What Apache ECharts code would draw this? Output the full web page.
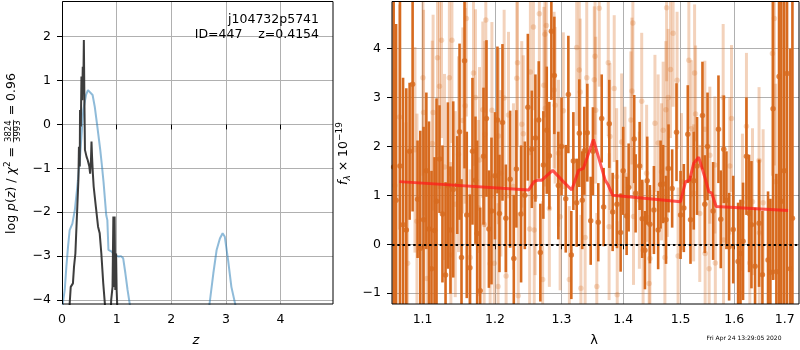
<!DOCTYPE html>
<html><head><meta charset="utf-8">
<script src="https://cdn.jsdelivr.net/npm/echarts@6/dist/echarts.min.js"></script>
<style>html,body{margin:0;padding:0;background:#fff}#c{width:800px;height:350px}</style>
</head><body><div id="c"></div>
<script>
// ---------- Left panel: log p(z) ----------
const blueZ = [0.0,0.019,0.05,0.08,0.11,0.14,0.19,0.235,0.28,0.33,0.36,0.39,0.44,0.475,0.51,0.56,0.60,0.64,0.70,0.73,0.76,0.81,0.83,0.85,0.91,0.975,1.04,1.08,1.12,1.16,1.20,1.24,1.31,2.0,2.6,2.70,2.77,2.83,2.89,2.94,2.98,3.04,3.10,3.17,3.30,4.0,4.96];
const blueLogP = [-4.5,-4.04,-3.77,-3.24,-2.79,-2.41,-2.26,-1.95,-1.42,-0.74,-0.20,0.33,0.67,0.78,0.78,0.67,0.40,0.02,-0.58,-0.93,-1.31,-2.07,-2.18,-2.86,-2.90,-2.98,-3.01,-3.00,-3.05,-3.39,-3.77,-4.09,-5.0,-7.0,-5.0,-4.09,-3.39,-2.86,-2.60,-2.48,-2.56,-3.09,-3.70,-4.09,-5.0,-8.0,-9.0];
const blackZ = [0.13,0.14,0.16,0.18,0.20,0.22,0.245,0.26,0.28,0.30,0.31,0.325,0.33,0.345,0.356,0.37,0.38,0.39,0.40,0.41,0.42,0.45,0.47,0.50,0.515,0.53,0.54,0.55,0.565,0.58,0.62,0.66,0.69,0.72,0.755,0.785,0.80,0.88,0.90,0.925,0.94,0.945,0.95,0.963,0.975,0.99,1.0,1.01,1.03];
const blackLogP = [-4.8,-4.09,-3.7,-3.66,-3.62,-3.24,-2.94,-2.48,-1.88,-1.27,-0.51,-0.96,0.33,-0.05,1.09,0.55,1.31,0.86,1.92,0.55,-0.58,-0.74,-0.81,-0.96,-1.12,-0.81,-0.39,-0.74,-1.12,-1.42,-1.88,-2.33,-2.48,-2.94,-3.62,-4.09,-4.8,-4.8,-4.0,-3.7,-2.1,-3.09,-3.7,-2.1,-3.77,-2.94,-3.77,-4.09,-4.8];
const leftXTicks = [0,1,2,3,4];
const leftYTicks = [-4,-3,-2,-1,0,1,2];

// ---------- Right panel: spectrum ----------
const darkWave = [
1.0624,1.0655,1.0705,1.0745,1.0787,1.0830,1.0869,1.0934,1.0970,1.1013,
1.1050,1.1085,1.1119,1.1159,1.1186,1.1226,1.1266,1.1308,1.1340,1.1375,
1.1413,1.1468,1.1500,1.1527,1.1569,1.1600,1.1644,1.1680,1.1722,1.1746,
1.1789,1.1836,1.1878,1.1913,1.1950,1.2000,1.2036,1.2065,1.2109,1.2158,
1.2221,1.2275,1.2313,1.2383,1.2439,1.2484,1.2544,1.2598,1.2649,1.2673,
1.2719,1.2771,1.2811,1.2842,1.2888,1.2950,1.3000,1.3066,1.3107,1.3154,
1.3186,1.3239,1.3281,1.3328,1.3361,1.3409,1.3464,1.3500,1.3587,1.3643,
1.3675,1.3768,1.3824,1.3896,1.3957,1.4000,1.4058,1.4092,1.4187,1.4211,
1.4280,1.4324,1.4371,1.4410,1.4457,1.4527,1.4601,1.4644,1.4689,1.4740,
1.4784,1.4849,1.4927,1.5000,1.5059,1.5131,1.5180,1.5240,1.5300,1.5400,
1.5444,1.5494,1.5598,1.5699,1.5743,1.5800,1.5850,1.5901,1.5980,1.6074,
1.6120,1.6170,1.6236,1.6288,1.6334,1.6405,1.6484,1.6551,1.6663,1.6710,
1.6764,1.6831,1.6885,1.6932,1.6990,1.7048,1.7116,1.7159];
const darkFlux = [
1.58,0.90,1.60,0.40,0.29,1.90,3.27,0.92,-0.08,0.50,
1.50,0.31,-0.50,0.28,0.88,1.74,0.62,-0.63,1.20,0.29,
1.12,1.21,2.30,-0.27,3.75,0.60,-0.48,1.90,1.31,0.22,
-0.95,1.80,2.57,0.31,0.68,1.40,2.54,0.63,2.49,0.53,
1.33,-0.29,1.54,0.62,1.00,2.80,1.94,2.17,2.54,-0.17,
1.62,2.33,1.81,4.35,3.45,1.20,2.00,0.93,3.06,-0.22,
1.70,0.85,2.27,0.90,1.91,2.28,0.48,1.90,0.45,2.57,
0.76,2.46,0.66,0.82,0.24,1.50,0.58,1.16,2.15,1.04,
1.60,0.52,-0.12,1.30,0.41,0.70,0.29,1.22,1.23,0.50,
1.55,1.14,2.29,0.60,0.74,2.25,0.50,1.30,1.60,2.63,
0.82,2.00,0.68,2.35,0.51,1.94,0.90,-0.05,0.30,-0.35,
-0.19,0.06,1.80,0.63,0.40,-0.45,0.43,-0.62,-0.32,-0.57,
2.77,-0.56,3.43,0.88,1.50,3.49,-0.50,0.53];
const darkErr = [
3.8,3.6,3.4,3.0,2.9,1.4,2.6,1.2,2.4,1.9,
1.6,2.2,2.0,1.5,2.1,1.1,1.4,1.9,1.7,1.3,
1.8,1.0,1.8,1.6,2.2,1.7,1.5,1.5,1.3,1.9,
1.7,1.4,1.6,1.2,1.5,1.3,1.5,1.2,1.6,1.1,
1.4,1.3,1.2,1.4,1.1,1.5,1.2,1.3,1.2,1.0,
1.1,1.3,1.1,1.4,1.2,1.1,1.0,1.1,1.2,0.9,
1.0,0.9,1.1,1.0,0.9,1.0,0.9,0.9,0.8,0.9,
0.8,0.9,0.8,0.9,0.8,0.9,0.8,0.9,0.9,0.8,
0.9,0.8,0.8,0.9,0.8,0.9,0.8,0.9,0.8,0.9,
0.9,0.8,1.0,0.9,0.9,1.0,0.9,1.0,1.0,1.1,
1.0,1.1,1.0,1.1,1.0,1.1,1.0,1.1,1.1,1.2,
1.1,1.2,1.2,1.2,1.3,1.2,1.3,1.3,1.4,1.5,
3.5,2.0,5.0,4.5,5.0,5.5,4.5,5.0];

const lightWave = [
1.0640,1.0700,1.0783,1.0804,1.0900,1.0926,1.1005,1.1013,1.1058,1.1129,
1.1140,1.1199,1.1226,1.1253,1.1294,1.1360,1.1380,1.1395,1.1441,1.1486,
1.1546,1.1578,1.1595,1.1648,1.1694,1.1722,1.1765,1.1779,1.1826,1.1845,
1.1855,1.1869,1.1931,1.1956,1.1990,1.2045,1.2050,1.2085,1.2133,1.2162,
1.2197,1.2270,1.2319,1.2330,1.2341,1.2393,1.2416,1.2511,1.2522,1.2568,
1.2580,1.2594,1.2658,1.2708,1.2727,1.2742,1.2750,1.2765,1.2811,1.2884,
1.2900,1.2952,1.2978,1.3028,1.3123,1.3239,1.3281,1.3295,1.3306,1.3374,
1.3400,1.3522,1.3534,1.3545,1.3563,1.3603,1.3751,1.3765,1.3779,1.3850,
1.3890,1.3900,1.3974,1.4030,1.4130,1.4148,1.4164,1.4175,1.4275,1.4315,
1.4339,1.4400,1.4444,1.4457,1.4545,1.4601,1.4661,1.4689,1.4720,1.4737,
1.4750,1.4765,1.4778,1.4820,1.4866,1.4937,1.4955,1.5017,1.5150,1.5194,
1.5237,1.5255,1.5273,1.5350,1.5444,1.5450,1.5524,1.5537,1.5631,1.5640,
1.5788,1.5795,1.5914,1.5947,1.6107,1.6158,1.6236,1.6302,1.6355,1.6484,
1.6490,1.6565,1.6752,1.6791,1.6817];
const lightFlux = [
1.20,2.60,0.29,-0.39,1.93,0.47,3.40,2.69,-0.70,2.06,
2.69,3.81,3.23,4.17,1.58,3.40,-0.22,4.17,0.82,1.84,
2.53,2.83,4.61,-0.27,3.50,3.00,0.74,1.72,2.75,0.41,
2.25,4.58,-0.40,2.74,-0.39,-0.86,2.21,1.45,2.99,-0.65,
2.64,1.18,3.39,3.71,-1.05,2.45,2.26,0.31,3.52,4.44,
0.29,0.97,4.71,-0.72,3.25,4.29,2.78,4.47,0.73,3.15,
2.84,1.86,0.56,2.73,-0.72,4.02,3.56,3.11,-0.90,0.14,
3.40,3.36,3.84,2.74,-0.86,4.82,3.71,0.36,2.20,3.18,
1.38,-1.03,2.09,1.41,2.54,3.13,4.52,0.57,0.90,2.92,
-0.12,1.45,-0.80,-0.29,2.47,2.07,1.48,2.33,-0.27,2.75,
4.83,1.55,3.00,3.57,4.31,3.35,-0.24,1.28,3.76,2.36,
1.05,3.50,2.66,0.63,2.35,-0.19,-0.50,1.82,1.62,-0.38,
3.00,0.09,1.60,2.57,-0.99,0.86,2.41,-0.38,0.87,1.71,
0.23,0.85,3.90,4.61,1.28];
const lightErr = [
2.4,2.3,2.2,2.3,2.1,2.2,2.0,2.1,2.0,2.1,
2.0,2.0,2.1,2.0,1.9,2.0,1.9,2.1,1.9,2.0,
1.9,2.0,2.0,1.8,1.9,1.8,1.8,1.9,1.8,1.8,
1.9,1.9,1.8,1.8,1.8,1.7,1.8,1.7,1.8,1.7,
1.7,1.7,1.8,1.7,1.7,1.7,1.6,1.6,1.7,1.7,
1.6,1.6,1.7,1.6,1.6,1.7,1.6,1.6,1.6,1.6,
1.6,1.5,1.5,1.6,1.5,1.6,1.6,1.5,1.5,1.5,
1.6,1.5,1.6,1.5,1.5,1.6,1.5,1.5,1.5,1.5,
1.4,1.5,1.4,1.4,1.4,1.5,1.5,1.4,1.4,1.4,
1.4,1.4,1.4,1.4,1.4,1.4,1.4,1.4,1.4,1.4,
1.5,1.4,1.4,1.4,1.5,1.4,1.4,1.4,1.4,1.4,
1.4,1.4,1.4,1.4,1.4,1.4,1.4,1.4,1.4,1.4,
1.5,1.4,1.4,1.5,1.5,1.4,1.5,1.5,1.5,1.5,
1.5,1.5,2.5,3.0,2.0];

const modelWave = [1.0697,1.2497,1.2578,1.2639,1.2696,1.2862,1.3028,1.3160,1.3270,1.3345,1.3508,1.3605,1.3700,1.3751,1.3824,1.4999,1.5090,1.5163,1.5237,1.5330,1.5444,1.5520,1.5570,1.5655,1.7070];
const modelFlux = [1.28,1.11,1.28,1.31,1.31,1.51,1.28,1.11,1.51,1.55,2.14,1.72,1.31,1.21,1.00,0.87,1.28,1.31,1.65,1.78,1.37,1.07,1.05,0.77,0.69];
const rightXTicks = [1.1,1.2,1.3,1.4,1.5,1.6,1.7];
const rightYTicks = [-1,0,1,2,3,4];

// ---------- drawing ----------
const FONT = 'DejaVu Sans';
const FS = 12.5;
const DARK = '#d76a1e';
const LIGHT = 'rgba(215,106,30,0.3)';
const mctx = document.createElement('canvas').getContext('2d');
function tw(text, size, italic) {
  mctx.font = (italic ? 'italic ' : '') + size + 'px "' + FONT + '"';
  return mctx.measureText(text).width;
}
function intLabel(v) {
  if (Math.abs(v - Math.round(v)) > 1e-6) return '';
  return String(Math.round(v)).replace('-', '\u2212');
}
function compose(cx, cy, pieces) {
  let total = 0;
  pieces.forEach(p => {
    p.w = p.frac ? Math.max(tw(p.num, p.size), tw(p.den, p.size)) + 2 : tw(p.text, p.size || FS, p.italic);
    total += p.w;
  });
  let x = -total / 2;
  const children = [];
  pieces.forEach(p => {
    if (p.frac) {
      children.push({type:'text', x: x + p.w/2, y: -3.2, style:{text:p.num, fontSize:p.size, fontFamily:FONT, fill:'#000', align:'center', verticalAlign:'middle', textAlign:'center', textVerticalAlign:'middle'}});
      children.push({type:'text', x: x + p.w/2, y: 6.2, style:{text:p.den, fontSize:p.size, fontFamily:FONT, fill:'#000', align:'center', verticalAlign:'middle', textAlign:'center', textVerticalAlign:'middle'}});
      children.push({type:'line', shape:{x1:x+0.5, y1:1.5, x2:x+p.w-0.5, y2:1.5}, style:{stroke:'#000', lineWidth:0.7}});
    } else {
      children.push({type:'text', x: x, y: p.dy || 0, style:{text:p.text, fontSize:p.size || FS, fontStyle: p.italic ? 'italic' : 'normal', fontFamily:FONT, fill:'#000', align:'left', verticalAlign:'middle', textAlign:'left', textVerticalAlign:'middle'}});
    }
    x += p.w;
  });
  return {type:'group', x: cx, y: cy, rotation: Math.PI/2, children};
}

const errBar = (color, w) => function (params, api) {
  const x = api.value(0), y = api.value(1), e = api.value(2);
  const a = api.coord([x, y + e]);
  const b = api.coord([x, y - e]);
  return {type:'rect', shape:{x: a[0] - w/2, y: a[1], width: w, height: b[1] - a[1]}, style:{fill: color}};
};

function axisBase(ticks) {
  return {
    axisLine:{show:false},
    axisTick:{show:true, length:5, customValues: ticks, lineStyle:{color:'#000', width:1}},
    axisLabel:{color:'#000', fontFamily:FONT, fontSize:FS, customValues: ticks},
    splitLine:{show:true, lineStyle:{color:'#b0b0b0', width:1}}
  };
}

const chart = echarts.init(document.getElementById('c'), null, {renderer:'canvas'});
const xl = axisBase(leftXTicks), yl = axisBase(leftYTicks), xr = axisBase(rightXTicks), yr = axisBase(rightYTicks);
xl.axisLabel.margin = 9; xr.axisLabel.margin = 9; yl.axisLabel.margin = 11; yr.axisLabel.margin = 11;
xl.axisLabel.formatter = intLabel; yl.axisLabel.formatter = intLabel; yr.axisLabel.formatter = intLabel;
xr.axisLabel.formatter = v => (Math.abs(v*10 - Math.round(v*10)) < 1e-6 ? v.toFixed(1) : '');

const option = {
  animation:false,
  textStyle:{fontFamily:FONT},
  grid:[
    {left:62, top:1, right:467, bottom:46, outerBoundsMode:'none', containLabel:false},
    {left:392, top:1, right:1, bottom:46, outerBoundsMode:'none', containLabel:false}
  ],
  xAxis:[
    Object.assign({type:'value', gridIndex:0, min:0, max:4.96, interval:1}, xl),
    Object.assign({type:'log', gridIndex:1, min:1.0603, max:1.7295, logBase:10}, xr)
  ],
  yAxis:[
    Object.assign({type:'value', gridIndex:0, min:-4.09, max:2.81, minInterval:1, maxInterval:1}, yl),
    Object.assign({type:'value', gridIndex:1, min:-1.22, max:4.97, minInterval:1, maxInterval:1}, yr)
  ],
  series:[
    {type:'line', xAxisIndex:0, yAxisIndex:0, data: blueZ.map((z,i)=>[z, blueLogP[i]]), showSymbol:false, symbol:'none', clip:true,
     lineStyle:{color:'#1f77b4', opacity:0.5, width:2}, z:2},
    {type:'line', xAxisIndex:0, yAxisIndex:0, data: blackZ.map((z,i)=>[z, blackLogP[i]]), showSymbol:false, symbol:'none', clip:true,
     lineStyle:{color:'#333333', opacity:0.95, width:2}, z:3},
    {type:'custom', xAxisIndex:1, yAxisIndex:1, clip:true, renderItem: errBar(LIGHT, 3),
     data: lightWave.map((w,i)=>[w, lightFlux[i], lightErr[i]]), encode:{x:0, y:1}, z:2},
    {type:'scatter', xAxisIndex:1, yAxisIndex:1, clip:true, symbolSize:5.5,
     itemStyle:{color:LIGHT}, data: lightWave.map((w,i)=>[w, lightFlux[i]]), z:2},
    {type:'custom', xAxisIndex:1, yAxisIndex:1, clip:true, renderItem: errBar(DARK, 2.6),
     data: darkWave.map((w,i)=>[w, darkFlux[i], darkErr[i]]), encode:{x:0, y:1}, z:3},
    {type:'scatter', xAxisIndex:1, yAxisIndex:1, clip:true, symbolSize:5.5,
     itemStyle:{color:DARK}, data: darkWave.map((w,i)=>[w, darkFlux[i]]), z:3},
    {type:'line', xAxisIndex:1, yAxisIndex:1, data: modelWave.map((w,i)=>[w, modelFlux[i]]), showSymbol:false, symbol:'none', clip:true,
     lineStyle:{color:'#ff1a1a', opacity:0.72, width:3}, z:5,
     markLine:{silent:true, symbol:['none','none'], label:{show:false}, animation:false,
       lineStyle:{color:'#000', type:[2.5,2.8], width:2, opacity:1}, data:[{yAxis:0}]}}
  ],
  graphic:[
    {type:'rect', shape:{x:62.5, y:1.5, width:270.5, height:302.5}, style:{fill:'none', stroke:'#000', lineWidth:1}, z:100, silent:true},
    {type:'rect', shape:{x:392, y:1.5, width:407, height:302.5}, style:{fill:'none', stroke:'#000', lineWidth:1}, z:100, silent:true},
    {type:'text', x:319, y:20, z:100, style:{text:'j104732p5741', fontSize:FS, fontFamily:FONT, fill:'#000', align:'right', verticalAlign:'middle', textAlign:'right', textVerticalAlign:'middle'}},
    {type:'text', x:319, y:35, z:100, style:{text:'ID=447    z=0.4154', fontSize:FS, fontFamily:FONT, fill:'#000', align:'right', verticalAlign:'middle', textAlign:'right', textVerticalAlign:'middle'}},
    {type:'text', x:196, y:341, z:100, style:{text:'z', fontSize:FS+0.5, fontStyle:'italic', fontFamily:FONT, fill:'#000', align:'center', verticalAlign:'middle', textAlign:'center', textVerticalAlign:'middle'}},
    {type:'text', x:594, y:341, z:100, style:{text:'λ', fontSize:FS+0.5, fontFamily:FONT, fill:'#000', align:'center', verticalAlign:'middle', textAlign:'center', textVerticalAlign:'middle'}},
    {type:'text', x:744, y:338, z:100, style:{text:'Fri Apr 24 13:29:05 2020', fontSize:6, fontFamily:FONT, fill:'#000', align:'center', verticalAlign:'middle', textAlign:'center', textVerticalAlign:'middle'}},
    compose(12, 153.5, [
      {text:'log '}, {text:'p', italic:true}, {text:'('}, {text:'z', italic:true}, {text:') / '},
      {text:'χ', italic:true}, {text:'2', size:9, dy:-4.5}, {text:' = '},
      {frac:true, num:'3824', den:'3993', size:8.5}, {text:' = 0.96'}
    ]),
    compose(344, 153.5, [
      {text:'f', italic:true}, {text:'λ', italic:true, size:9, dy:3.5}, {text:' × 10'}, {text:'\u221219', size:9, dy:-4.5}
    ])
  ]
};
chart.setOption(option);
</script>
</body></html>
